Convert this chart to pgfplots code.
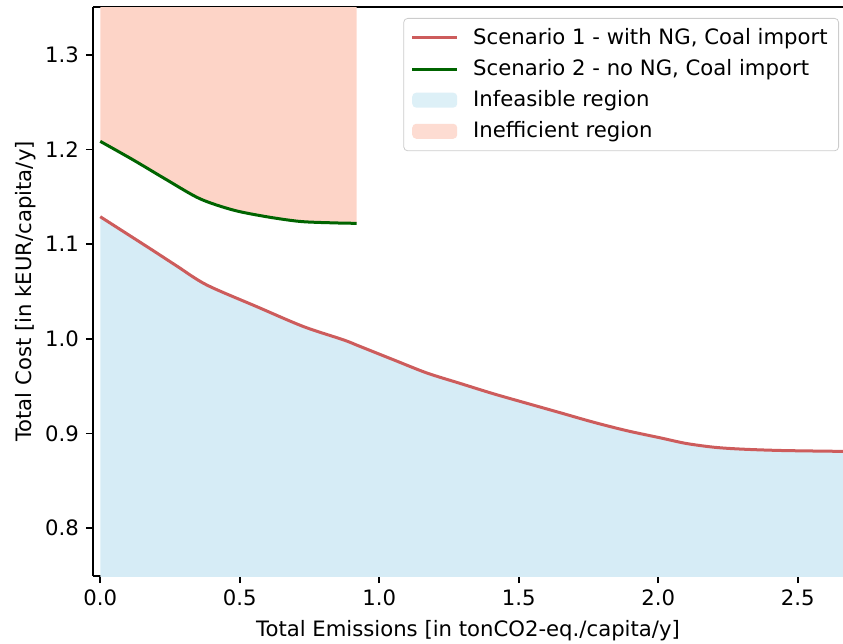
\documentclass[border=0pt]{standalone}
\usepackage{fontspec}
\setmainfont{DejaVu Sans}
\usepackage{pgfplots}
\pgfplotsset{compat=1.18}
\definecolor{scred}{RGB}{205,92,92}
\definecolor{scgreen}{RGB}{0,100,0}
\definecolor{infeas}{RGB}{214,236,246}
\definecolor{ineff}{RGB}{253,212,199}
\pgfplotsset{
  lineleg/.style={legend image code/.code={\draw[##1] (0pt,0pt) -- (22.5pt,0pt); \path[draw=none,fill=none] (22.5pt,0pt) -- (28.5pt,0pt);}},
  infleg/.style={legend image code/.code={\fill[infeas,draw=none] (0pt,-3.75pt) rectangle (22.5pt,3.75pt); \path[draw=none,fill=none] (22.5pt,0pt) -- (28.5pt,0pt);}},
  effleg/.style={legend image code/.code={\fill[ineff,draw=none] (0pt,-3.75pt) rectangle (22.5pt,3.75pt); \path[draw=none,fill=none] (22.5pt,0pt) -- (28.5pt,0pt);}},
}
\begin{document}
\begin{tikzpicture}
\begin{axis}[
  at={(0,0)}, anchor=south west,
  scale only axis, width=375pt, height=284.5pt,
  xmin=-0.026, xmax=2.662, ymin=0.7495, ymax=1.3505,
  axis x line=box, axis y line=left, axis line style={-, line width=0.8pt, black},
  xtick pos=left,
  xtick={0,0.5,1.0,1.5,2.0,2.5}, ytick={0.8,0.9,1.0,1.1,1.2,1.3},
  xticklabels={0.0,0.5,1.0,1.5,2.0,2.5},
  yticklabels={0.8,0.9,1.0,1.1,1.2,1.3},
  tick align=outside, major tick length=3.5pt,
  tick style={line width=0.8pt, black},
  font=\fontsize{10.6}{12.7}\selectfont,
  /pgf/number format/assume math mode=true,
  xlabel={Total Emissions [in tonCO2-eq./capita/y]},
  ylabel={Total Cost [in kEUR/capita/y]},
  xlabel style={yshift=-0.5pt},
  ylabel style={yshift=-2pt},
  legend cell align=left,
  legend style={at={(0.9947,0.9807)}, anchor=north east, draw=black!20, rounded corners=2pt,
    fill=white, fill opacity=0.8, text opacity=1, font=\fontsize{10.6}{12.7}\selectfont,
    row sep=2pt, inner xsep=3.5pt, inner ysep=3pt},
]
% Inefficient region
\addplot[fill=ineff, draw=none, forget plot] coordinates {
 (0,1.2086) (0.118,1.189) (0.238,1.168) (0.357,1.148) (0.477,1.136) (0.596,1.129) (0.716,1.124) (0.835,1.1225) (0.919,1.122) (0.919,1.40) (0,1.40)
} -- cycle;
% Infeasible region
\addplot[fill=infeas, draw=none, forget plot] coordinates {
 (0,1.129) (0.178,1.0954) (0.274,1.077) (0.381,1.057) (0.561,1.034) (0.728,1.013) (0.871,0.999) (0.931,0.992) (1.050,0.978) (1.170,0.964) (1.289,0.953) (1.409,0.942) (1.528,0.932) (1.648,0.922) (1.767,0.912) (1.887,0.903) (2.006,0.8955) (2.10,0.8895) (2.20,0.8855) (2.30,0.8835) (2.45,0.882) (2.70,0.881) (2.70,0.70) (0,0.70)
} -- cycle;
\addplot[color=scred, line width=1.5pt, smooth, tension=0.5, lineleg] coordinates {
 (0,1.129) (0.178,1.0954) (0.274,1.077) (0.381,1.057) (0.561,1.034) (0.728,1.013) (0.871,0.999) (0.931,0.992) (1.050,0.978) (1.170,0.964) (1.289,0.953) (1.409,0.942) (1.528,0.932) (1.648,0.922) (1.767,0.912) (1.887,0.903) (2.006,0.8955) (2.10,0.8895) (2.20,0.8855) (2.30,0.8835) (2.45,0.882) (2.70,0.881)
};
\addlegendentry{Scenario 1 - with NG, Coal import}
\addplot[color=scgreen, line width=1.5pt, smooth, tension=0.5, lineleg] coordinates {
 (0,1.2086) (0.118,1.189) (0.238,1.168) (0.357,1.148) (0.477,1.136) (0.596,1.129) (0.716,1.124) (0.835,1.1225) (0.919,1.122)
};
\addlegendentry{Scenario 2 - no NG, Coal import}
\addlegendimage{infleg}
\addlegendentry{Infeasible region}
\addlegendimage{effleg}
\addlegendentry{Inefficient region}
\end{axis}
\pgfresetboundingbox
\path[use as bounding box] (-46.5pt,-34pt) rectangle (375pt,288pt);
\end{tikzpicture}
\end{document}
